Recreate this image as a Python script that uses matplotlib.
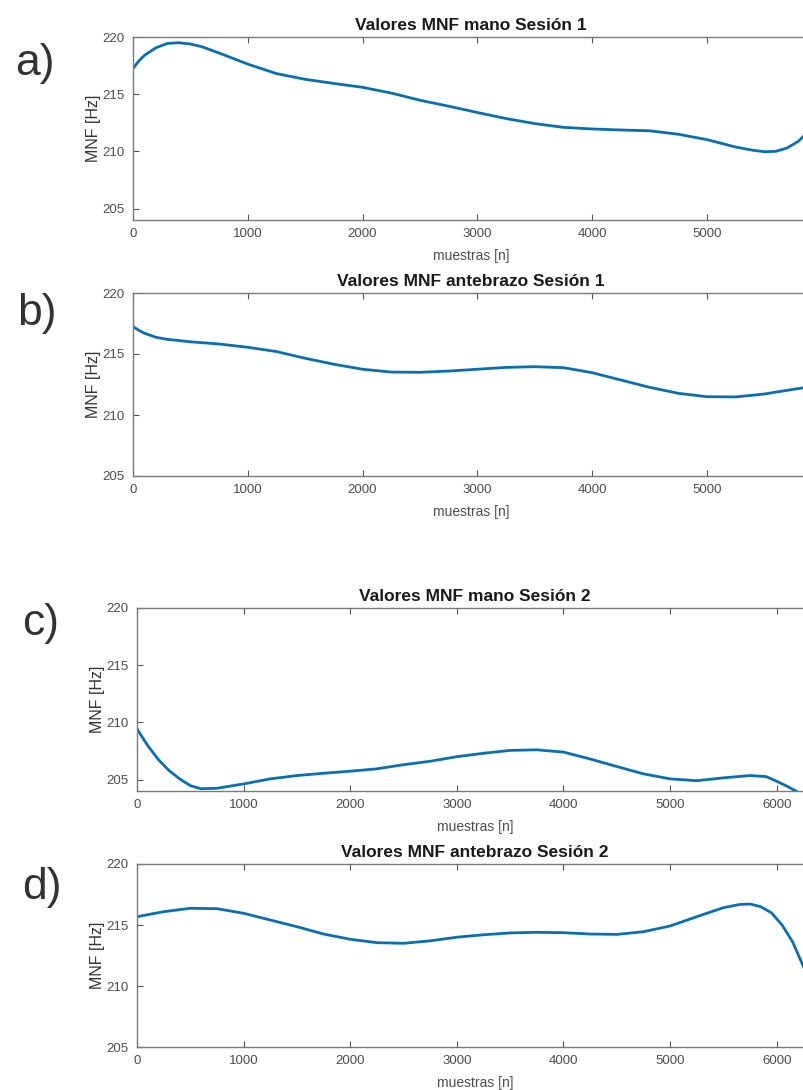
import matplotlib
matplotlib.use("Agg")
import matplotlib.pyplot as plt

plt.rcParams['font.family'] = ['Liberation Sans', 'DejaVu Sans']

# a) mano sesion 1
x_a = [0, 50, 100, 200, 300, 400, 500, 600, 750, 1000, 1250, 1500, 1750, 2000, 2250,
       2500, 2750, 3000, 3250, 3500, 3750, 4000, 4250, 4500, 4750, 5000, 5250,
       5400, 5500, 5600, 5700, 5800, 5890]
y_a = [217.25, 217.9, 218.4, 219.06, 219.44, 219.5, 219.39, 219.15, 218.6, 217.63,
       216.8, 216.3, 215.94, 215.6, 215.1, 214.47, 213.95, 213.4, 212.87, 212.43,
       212.1, 211.96, 211.87, 211.8, 211.5, 211.03, 210.38, 210.1, 209.97, 210.0,
       210.3, 210.9, 211.8]

# b) antebrazo sesion 1
x_b = [0, 50, 100, 200, 300, 500, 750, 1000, 1250, 1500, 1750, 2000, 2250, 2500, 2750,
       3000, 3250, 3500, 3750, 4000, 4250, 4500, 4750, 5000, 5250, 5500, 5750, 5890]
y_b = [217.24, 216.95, 216.7, 216.37, 216.2, 216.0, 215.82, 215.55, 215.2, 214.65,
       214.16, 213.75, 213.52, 213.5, 213.6, 213.75, 213.9, 213.96, 213.88, 213.47,
       212.87, 212.27, 211.78, 211.5, 211.48, 211.72, 212.1, 212.3]

# c) mano sesion 2
x_c = [0, 50, 100, 200, 300, 400, 500, 600, 750, 1000, 1250, 1500, 1750, 2000, 2250,
       2500, 2750, 3000, 3250, 3500, 3750, 4000, 4250, 4500, 4750, 5000, 5250, 5500,
       5750, 5900, 6000, 6100, 6200, 6340]
y_c = [209.44, 208.7, 207.98, 206.75, 205.79, 205.06, 204.47, 204.2, 204.24, 204.62,
       205.06, 205.35, 205.55, 205.73, 205.94, 206.3, 206.6, 207.0, 207.3, 207.55,
       207.6, 207.4, 206.8, 206.14, 205.5, 205.06, 204.9, 205.15, 205.35, 205.26,
       204.85, 204.4, 203.9, 202.7]

# d) antebrazo sesion 2
x_d = [0, 250, 500, 750, 1000, 1250, 1500, 1750, 2000, 2250, 2500, 2750, 3000, 3250,
       3500, 3750, 4000, 4250, 4500, 4750, 5000, 5250, 5500, 5650, 5750, 5850, 5950,
       6050, 6150, 6250, 6340]
y_d = [215.68, 216.09, 216.37, 216.34, 215.96, 215.41, 214.86, 214.26, 213.83, 213.55,
       213.5, 213.7, 214.0, 214.2, 214.35, 214.4, 214.37, 214.26, 214.23, 214.45, 214.92,
       215.68, 216.42, 216.68, 216.72, 216.5, 216.0, 215.0, 213.6, 211.6, 209.3]

titles = ['Valores MNF mano Sesión 1', 'Valores MNF antebrazo Sesión 1',
          'Valores MNF mano Sesión 2', 'Valores MNF antebrazo Sesión 2']
letters = ['a)', 'b)', 'c)', 'd)']
xs = [x_a, x_b, x_c, x_d]
ys = [y_a, y_b, y_c, y_d]
xmax = [5890, 5890, 6340, 6340]
ymin = [204, 205, 204, 205]

W, H = 804, 1090
# axes boxes in pixels: left, top, right, bottom
boxes = [(133, 37, 809, 220), (133, 293, 809, 476),
         (137, 608, 813, 791), (137, 864, 813, 1047)]
letter_pos = [(35, 63), (37, 313), (41, 623), (42, 888)]

fig = plt.figure(figsize=(W / 100, H / 100), dpi=100)
fig.patch.set_facecolor('white')

for i in range(4):
    l, t, r, b = boxes[i]
    ax = fig.add_axes([l / W, 1 - b / H, (r - l) / W, (b - t) / H])
    ax.plot(xs[i], ys[i], color='#0a6fb0', lw=2.0, solid_capstyle='round',
            solid_joinstyle='round')
    ax.set_xlim(0, xmax[i])
    ax.set_ylim(ymin[i], 220)
    ax.set_yticks([205, 210, 215, 220])
    ax.set_xticks(list(range(0, xmax[i], 1000)))
    ax.tick_params(direction='in', top=True, right=True, length=4, width=0.8,
                   color='#555555', labelcolor='#4d4d4d', labelsize=9.5, pad=6)
    for s in ax.spines.values():
        s.set_color('#7a7a7a')
        s.set_linewidth(1.0)
    ax.set_title(titles[i], fontsize=12.5, fontweight='bold', color='#1a1a1a', pad=5)
    ax.set_xlabel('muestras [n]', fontsize=10, color='#4d4d4d', labelpad=6)
    ax.set_ylabel('MNF [Hz]', fontsize=11.5, color='#333333', labelpad=1)
    lx, ly = letter_pos[i]
    fig.text(lx / W, 1 - ly / H, letters[i], fontsize=32, color='#333333',
             ha='center', va='center')

fig.savefig('out.png', dpi=100)
